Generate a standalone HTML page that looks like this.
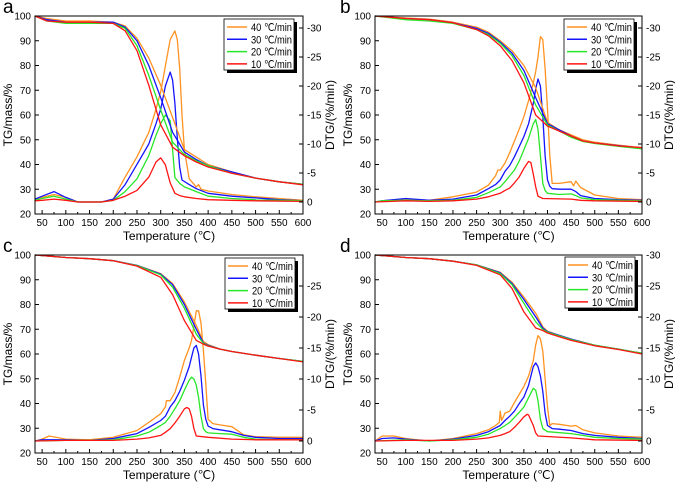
<!DOCTYPE html>
<html><head><meta charset="utf-8"><style>
html,body{margin:0;padding:0;background:#fff;}
svg{display:block;font-family:"Liberation Sans",sans-serif;}
</style></head><body>
<svg id="fig" width="675" height="483" viewBox="0 0 675 483" xmlns="http://www.w3.org/2000/svg"></svg>
<script>
// ---- data ----
const rates = ["40 ℃/min","30 ℃/min","20 ℃/min","10 ℃/min"];
const xTicks = [50,100,150,200,250,300,350,400,450,500,550,600];
const tgTicks = [20,30,40,50,60,70,80,90,100];
const dtgTicksAB = [-30,-25,-20,-15,-10,-5,0];
const dtgTicksC = [-25,-20,-15,-10,-5,0];

// panel a
const tgTempA = [35,60,100,150,200,225,250,275,300,325,350,375,400,450,500,550,600];
const tgA40 = [100,99,98,98,97.5,96,91,83,72,59,46,43,40,37,34.5,33,32];
const tgA30 = [100,98.5,97.5,97.5,97.5,95.5,90,80,67,53,45,42,39.5,37,34.5,33,32];
const tgA20 = [100,98,97,97,97,95,88,76,62,49,44,41.5,39.5,36.5,34.5,33,32];
const tgA10 = [100,98,97.5,97.5,97,94,86,72,56,47,43.5,41,39,36.5,34.5,33,31.8];
const dtgA40 = [[35,-0.5],[50,-0.8],[75,-1.3],[100,-0.8],[125,0],[175,0],[200,-0.5],[225,-4.3],[250,-7.8],[275,-12],[290,-16],[300,-19],[310,-23.5],[320,-28],[330,-29.5],[335,-28],[340,-23],[345,-15],[350,-9],[360,-4],[375,-2.6],[380,-3],[385,-2.2],[400,-1.9],[450,-1.3],[500,-0.9],[550,-0.6],[600,-0.3]];
const dtgA30 = [[35,-0.5],[50,-1],[75,-1.8],[100,-0.8],[125,0],[175,0],[200,-0.5],[225,-3],[250,-6.5],[275,-10],[290,-13.5],[300,-16],[310,-20],[320,-22.4],[325,-21],[330,-17],[335,-11],[340,-6],[345,-3.8],[360,-3],[375,-2.3],[400,-1.5],[450,-1],[500,-0.7],[550,-0.4],[600,-0.2]];
const dtgA20 = [[35,-0.3],[50,-0.6],[75,-1],[100,-0.5],[125,0],[175,0],[200,-0.3],[225,-1.8],[250,-4],[275,-8],[290,-11.5],[300,-13.5],[310,-15],[320,-14],[325,-9],[330,-4.2],[340,-3.2],[350,-2.6],[375,-1.8],[400,-1],[450,-0.6],[500,-0.4],[550,-0.3],[600,-0.2]];
const dtgA10 = [[35,-0.2],[50,-0.3],[75,-0.5],[100,-0.3],[125,0],[175,0],[200,-0.3],[225,-1],[250,-2],[275,-4.3],[290,-6.9],[300,-7.6],[310,-6.4],[320,-3.3],[330,-1.5],[340,-1.1],[350,-0.9],[375,-0.6],[400,-0.4],[450,-0.3],[500,-0.2],[600,-0.1]];

// panel b
const tgTempB = [35,100,150,200,250,275,300,325,350,375,400,425,450,475,500,550,600];
const tgB40 = [100,99.2,98.7,97.5,95.5,93.5,90,86,80,71,57,54,52,50,49,47.8,46.8];
const tgB30 = [100,99,98.5,97.3,95,93,89.5,85,78,67,56.5,54,51.5,49.5,48.7,47.6,46.7];
const tgB20 = [100,98.5,98,97,94.5,92.5,89,84,76,64,56,53.5,51,49.3,48.5,47.3,46.3];
const tgB10 = [100,99,98.5,97.3,94.5,92,88,82,73,60,55.5,53.5,51.5,49.5,48.7,47.5,46.8];
const dtgB40 = [[35,0],[50,-0.2],[100,-0.5],[150,-0.3],[200,-0.9],[250,-1.7],[275,-2.9],[290,-4.5],[295,-5.5],[300,-5.5],[310,-6.7],[320,-8.5],[330,-10.5],[340,-12.5],[350,-14.7],[360,-17.5],[370,-20.5],[375,-22.5],[380,-25],[385,-28.5],[390,-28],[395,-23],[400,-16],[405,-8],[410,-3.2],[425,-3.2],[450,-3.5],[455,-2.8],[460,-3.6],[470,-2.5],[500,-1.2],[550,-0.6],[600,-0.4]];
const dtgB30 = [[35,0],[50,-0.2],[100,-0.6],[150,-0.3],[200,-0.5],[250,-1.2],[275,-2.3],[290,-3],[300,-3.8],[310,-5.3],[320,-6.3],[330,-7.8],[340,-9.5],[350,-11.3],[360,-13.5],[370,-17],[375,-19.5],[380,-21.2],[385,-20],[390,-14.7],[395,-8],[400,-3.8],[405,-2.7],[410,-2.3],[425,-2.2],[450,-2.2],[460,-1.8],[470,-1.1],[500,-0.6],[550,-0.4],[600,-0.3]];
const dtgB20 = [[35,0],[50,-0.2],[100,-0.3],[150,-0.2],[200,-0.3],[250,-0.8],[275,-1.6],[300,-2.6],[310,-3.5],[320,-4.5],[330,-5.5],[340,-7],[350,-9],[360,-11],[370,-13.5],[375,-14.2],[380,-12.5],[385,-8],[390,-3.2],[395,-2],[400,-1.5],[425,-1.3],[450,-1.4],[460,-1.1],[470,-0.7],[500,-0.4],[550,-0.3],[600,-0.2]];
const dtgB10 = [[35,0],[100,-0.2],[150,-0.1],[200,-0.2],[250,-0.5],[275,-0.9],[300,-1.5],[310,-2],[320,-2.4],[330,-3.3],[340,-4.3],[350,-5.8],[360,-7],[365,-6.8],[370,-4.8],[375,-2.6],[380,-1],[390,-0.6],[450,-0.5],[470,-0.3],[500,-0.2],[600,-0.1]];

// panel c
const tgTempC = [35,100,150,200,250,300,325,350,375,390,400,425,450,500,550,600];
const tgC40 = [100,99,98.5,97.7,95.8,92.5,88.5,81,71.5,65,63.8,62,61,59.5,58.2,57];
const tgC30 = [100,99,98.5,97.7,95.8,92.3,88,80,70,64.5,63.5,62,61,59.5,58.2,57];
const tgC20 = [100,99,98.5,97.7,95.7,92,87,78.5,68,64.3,63.3,62,61,59.5,58.2,57];
const tgC10 = [100,99,98.5,97.7,95.5,91,84,73.5,65.5,64,63.2,62,61,59.5,58.2,56.8];
const dtgC40 = [[35,0],[50,-0.3],[65,-0.8],[100,-0.3],[150,-0.2],[200,-0.6],[250,-1.7],[275,-3],[300,-4.4],[310,-5.5],[312,-6.5],[320,-6.5],[330,-7.8],[340,-10.3],[350,-13],[360,-15],[365,-16.2],[370,-18.5],[375,-21],[380,-21],[385,-19],[390,-14.6],[395,-9.2],[400,-3.5],[410,-2.8],[425,-2.6],[450,-2.3],[475,-1],[500,-0.7],[550,-0.6],[600,-0.6]];
const dtgC30 = [[35,0],[50,-0.2],[100,-0.2],[150,-0.1],[200,-0.4],[250,-1.2],[275,-2.2],[300,-3.3],[310,-4],[320,-5.5],[330,-6.5],[340,-8],[350,-9.8],[360,-12],[365,-13.5],[370,-15],[375,-15.4],[380,-14],[385,-10.5],[390,-5.8],[395,-3.5],[400,-2.4],[410,-2],[425,-1.8],[450,-1.5],[475,-0.9],[500,-0.6],[550,-0.4],[600,-0.4]];
const dtgC20 = [[35,0],[100,-0.1],[150,-0.1],[200,-0.2],[250,-0.8],[275,-1.4],[300,-2.5],[310,-3],[320,-4],[330,-5.2],[340,-6.5],[350,-8.2],[360,-9.8],[365,-10.3],[370,-10],[375,-9],[380,-7],[385,-4],[390,-2],[395,-1.5],[400,-1.3],[425,-1.2],[450,-1.1],[475,-0.6],[500,-0.3],[550,-0.2],[600,-0.2]];
const dtgC10 = [[35,0],[100,-0.1],[200,-0.1],[250,-0.3],[275,-0.5],[300,-0.9],[310,-1.4],[320,-2],[330,-2.9],[340,-4],[350,-5.2],[355,-5.4],[360,-5.2],[365,-4],[370,-2],[375,-0.8],[400,-0.6],[450,-0.3],[500,-0.2],[600,-0.2]];

// panel d
const tgTempD = [35,100,150,200,250,300,325,350,375,390,400,425,450,500,550,600];
const tgD40 = [100,99,98.5,97.5,96,93,89,83,76.5,71,69.2,67.5,66,63.5,62,60.3];
const tgD30 = [100,99,98.5,97.5,96,92.8,88.5,82,75,70.5,69,67.5,66,63.5,62,60.3];
const tgD20 = [100,99,98.5,97.5,96,92.5,88,80.5,73,70,68.8,67.3,65.8,63.5,62,60.3];
const tgD10 = [100,99,98.5,97.5,95.8,92,86.5,77,70.5,69.5,68.5,67,65.5,63.3,61.8,60];
const dtgD40 = [[35,0],[50,-0.8],[75,-0.8],[100,-0.4],[150,0],[200,-0.4],[250,-1.2],[275,-1.8],[290,-2.5],[298,-3],[300,-4.8],[303,-3.3],[310,-4.5],[320,-4.8],[330,-6.2],[340,-7.5],[350,-8.8],[360,-10.5],[370,-13],[375,-15.5],[380,-17],[385,-16.5],[390,-14.5],[395,-10],[400,-5.5],[405,-2.5],[410,-2.8],[425,-2.7],[450,-2.4],[460,-2.5],[475,-1.8],[500,-1.3],[550,-0.8],[600,-0.6]];
const dtgD30 = [[35,0],[50,-0.4],[75,-0.5],[100,-0.3],[150,0],[200,-0.3],[250,-0.9],[275,-1.5],[300,-2.5],[310,-3.3],[320,-4],[330,-4.8],[340,-6],[350,-7.1],[360,-9],[370,-12],[375,-12.6],[380,-12],[385,-10.5],[390,-8],[395,-4.5],[400,-2.5],[410,-2],[425,-1.9],[450,-1.7],[475,-1.2],[500,-0.9],[550,-0.6],[600,-0.4]];
const dtgD20 = [[35,0],[100,-0.2],[150,0],[200,-0.2],[250,-0.6],[275,-1.1],[300,-2],[310,-2.5],[320,-3],[330,-3.8],[340,-4.6],[350,-5.5],[360,-7],[370,-8.5],[375,-8.2],[380,-6.5],[385,-3.5],[390,-2],[400,-1.5],[450,-1.2],[475,-0.9],[500,-0.6],[550,-0.4],[600,-0.3]];
const dtgD10 = [[35,0],[100,-0.1],[200,-0.1],[250,-0.3],[275,-0.5],[300,-0.9],[310,-1.2],[320,-1.5],[330,-2.2],[340,-3],[350,-3.9],[357,-4.3],[360,-4.2],[370,-2.5],[375,-1.3],[380,-0.8],[450,-0.5],[500,-0.2],[600,-0.1]];

// ---- drawing ----
const colors = ["#ff9221","#1414ff","#28e628","#ff1414"];
const NS = "http://www.w3.org/2000/svg";
const svg = document.getElementById("fig");
function mk(tag, attrs, parent, text){
  const e = document.createElementNS(NS, tag);
  for (const k in attrs) e.setAttribute(k, attrs[k]);
  if (text !== undefined) e.textContent = text;
  (parent || svg).appendChild(e);
  return e;
}

function drawPanel(p){
  const g = mk("g", {});
  
  
  const L=p.x, R=p.x+p.w, T=p.y, B=p.y+p.h;
  const xs = t => L + (t-35)/(600-35)*p.w;
  const ytg = v => B - (v-20)/80*p.h;
  const ydt = v => p.dt0 + v*p.dtScale;

  const tgs = [p.tg40,p.tg30,p.tg20,p.tg10];
  const dts = [p.dt40,p.dt30,p.dt20,p.dt10];
  for (let i=0;i<4;i++){
    const d1 = dts[i].map((q,j)=>(j?"L":"M")+xs(q[0]).toFixed(1)+","+ydt(q[1]).toFixed(1)).join("");
    const pa = mk("path",{d:d1,fill:"none",stroke:colors[i],"stroke-width":1.3,"stroke-linejoin":"round"},g);
    
    
  }
  for (let i=0;i<4;i++){
    const d2 = tgs[i].map((v,j)=>(j?"L":"M")+xs(p.tgT[j]).toFixed(1)+","+ytg(v).toFixed(1)).join("");
    const pa = mk("path",{d:d2,fill:"none",stroke:colors[i],"stroke-width":1.3,"stroke-linejoin":"round"},g);
    
    
  }
  const fr = mk("rect",{x:L,y:T,width:p.w,height:p.h,fill:"none",stroke:"#000","stroke-width":1},g);
  
  
  xTicks.forEach(t=>{
    const X = xs(t);
    mk("line",{x1:X,y1:B,x2:X,y2:B-4,stroke:"#000"},g);
    const tx = mk("text",{x:X,y:B+12,"font-size":10,"text-anchor":"middle"},g,String(t));
    
    
  });
  for (let t=75;t<600;t+=50){ const X=xs(t); mk("line",{x1:X,y1:B,x2:X,y2:B-2,stroke:"#000"},g); }
  tgTicks.forEach(v=>{
    const Y = ytg(v);
    mk("line",{x1:L,y1:Y,x2:L+4,y2:Y,stroke:"#000"},g);
    const tx = mk("text",{x:L-4,y:Y+3.5,"font-size":10,"text-anchor":"end"},g,String(v));
    
    
  });
  p.dtTicks.forEach(v=>{
    const Y = ydt(v);
    mk("line",{x1:R,y1:Y,x2:R-4,y2:Y,stroke:"#000"},g);
    const tx = mk("text",{x:R+4,y:Y+3.5,"font-size":10},g,String(v));
    
    
  });
  const xt = mk("text",{x:(L+R)/2,y:B+26,"font-size":12,"text-anchor":"middle"},g,"Temperature (℃)");
  
  
  const cy = (T+B)/2;
  const yl = mk("text",{x:L-23,y:cy,"font-size":12,"text-anchor":"middle",transform:`rotate(-90 ${L-23} ${cy})`},g,"TG/mass/%");
  
  
  const yr = mk("text",{x:R+31,y:cy,"font-size":12,"text-anchor":"middle",transform:`rotate(-90 ${R+31} ${cy})`},g,"DTG/(%/min)");
  
  
  const lt = mk("text",{x:p.lx,y:p.ly,"font-size":19},g,p.id);
  
  
  const lg = mk("g",{},g);
  
  
  mk("rect",{x:p.lgx+3,y:p.lgy+3,width:70,height:51,fill:"#000"},lg);
  mk("rect",{x:p.lgx,y:p.lgy,width:70,height:51,fill:"#fff",stroke:"#000","stroke-width":0.8},lg);
  rates.forEach((r,i)=>{
    const yy = p.lgy + 8 + i*12.3;
    const en = mk("g",{},lg);
    
    
    mk("line",{x1:p.lgx+3,y1:yy,x2:p.lgx+23,y2:yy,stroke:colors[i],"stroke-width":1.5},en);
    mk("text",{x:p.lgx+27,y:yy+4,"font-size":11,textLength:41,lengthAdjust:"spacingAndGlyphs"},en,r);
  });
}

drawPanel({id:"a",x:35,y:16,w:268,h:198,dt0:202,dtScale:5.8,dtTicks:dtgTicksAB,lx:3,ly:13,lgx:224,lgy:19,
  tgT:tgTempA,tg40:tgA40,tg30:tgA30,tg20:tgA20,tg10:tgA10,dt40:dtgA40,dt30:dtgA30,dt20:dtgA20,dt10:dtgA10});
drawPanel({id:"b",x:375,y:16,w:267,h:198,dt0:202,dtScale:5.8,dtTicks:dtgTicksAB,lx:340,ly:13,lgx:564,lgy:19,
  tgT:tgTempB,tg40:tgB40,tg30:tgB30,tg20:tgB20,tg10:tgB10,dt40:dtgB40,dt30:dtgB30,dt20:dtgB20,dt10:dtgB10});
drawPanel({id:"c",x:35,y:255,w:268,h:198,dt0:441,dtScale:6.2,dtTicks:dtgTicksC,lx:3,ly:252,lgx:225,lgy:258,
  tgT:tgTempC,tg40:tgC40,tg30:tgC30,tg20:tgC20,tg10:tgC10,dt40:dtgC40,dt30:dtgC30,dt20:dtgC20,dt10:dtgC10});
drawPanel({id:"d",x:375,y:255,w:267,h:198,dt0:441,dtScale:6.2,dtTicks:dtgTicksAB,lx:340,ly:252,lgx:565,lgy:257,
  tgT:tgTempD,tg40:tgD40,tg30:tgD30,tg20:tgD20,tg10:tgD10,dt40:dtgD40,dt30:dtgD30,dt20:dtgD20,dt10:dtgD10});
</script>
</body></html>
